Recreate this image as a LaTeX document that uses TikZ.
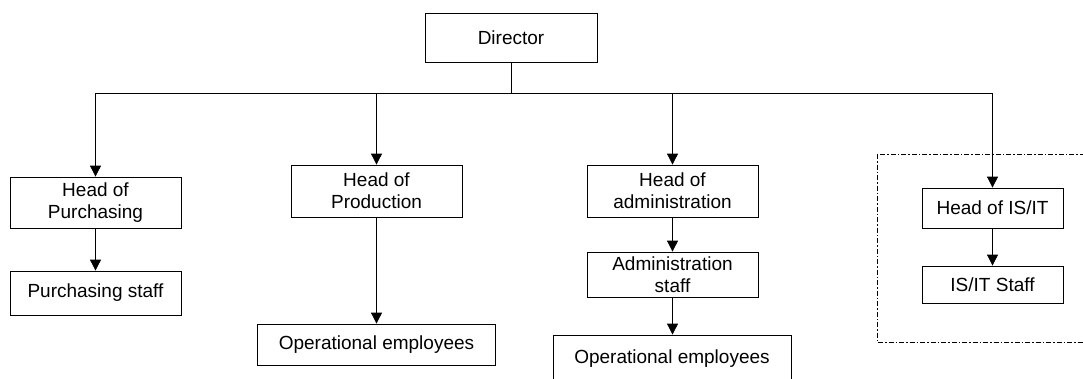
\documentclass[tikz,border=0pt]{standalone}
\usepackage{fontspec}
\setmainfont{Liberation Sans}
\usetikzlibrary{arrows.meta}

\begin{document}
\begin{tikzpicture}[x=1pt,y=-1pt,line width=0.8pt,
  unit/.style={draw,align=center,inner sep=2pt,font=\fontsize{19}{22}\selectfont},
  arr/.style={-{Triangle[length=11pt,width=11pt]}}]
  \useasboundingbox (0,0) rectangle (1083,378);
  % director
  \node[unit,minimum width=172,minimum height=49] (dir) at (511,37.5){Director};
  \coordinate (bus) at (511,93);
  % purchasing
  \node[unit,minimum width=171,minimum height=51] (hp) at (95.5,202.5){Head of\\Purchasing};
  \node[unit,minimum width=171,minimum height=44] (ps) at (95.5,293){Purchasing staff};
  % production
  \node[unit,minimum width=171,minimum height=52] (hpr) at (376.5,191){Head of\\Production};
  \node[unit,minimum width=238,minimum height=41] (op1) at (376.5,344.5){Operational employees};
  % administration
  \node[unit,minimum width=171,minimum height=52] (ha) at (672.5,191){Head of\\administration};
  \node[unit,minimum width=171,minimum height=45] (as) at (672.5,274.5){Administration\\staff};
  \node[unit,minimum width=238,minimum height=48] (op2) at (672,359){Operational employees};
  % IS/IT
  \draw[dash pattern=on 5pt off 2pt on 1.5pt off 2pt] (877,154) rectangle (1092,342);
  \node[unit,minimum width=141,minimum height=40] (hit) at (992.5,208){Head of IS/IT};
  \node[unit,minimum width=141,minimum height=37] (its) at (992.5,284.5){IS/IT Staff};
  % lines
  \draw (dir.south) -- (bus);
  \foreach \h in {hp,hpr,ha,hit}
    \draw[arr] (bus) -| (\h.north);
  \draw[arr] (hp) -- (ps);
  \draw[arr] (hpr) -- (op1);
  \draw[arr] (ha) -- (as);
  \draw[arr] (as) -- (op2.north -| as.south);
  \draw[arr] (hit) -- (its);
\end{tikzpicture}
\end{document}
